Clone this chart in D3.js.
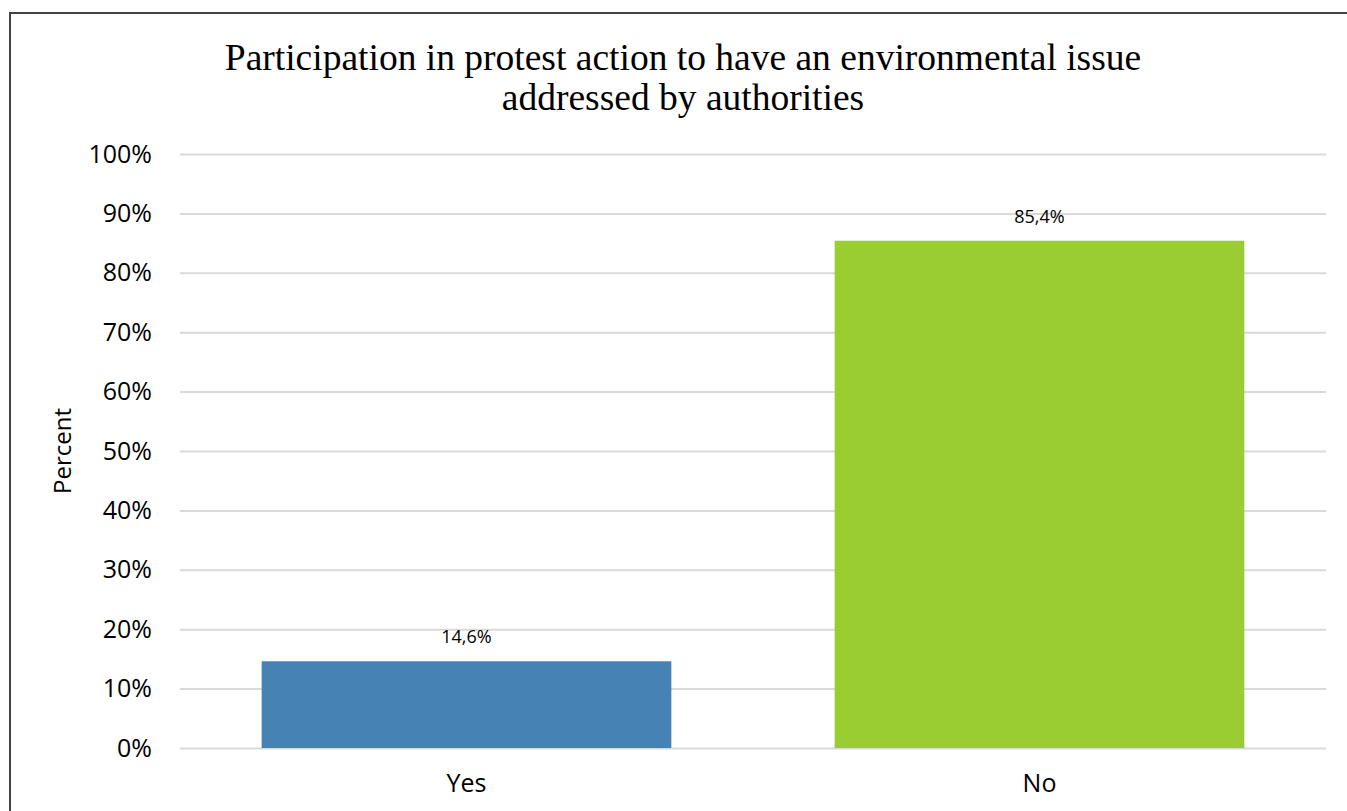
<!DOCTYPE html>
<html>
<head>
<meta charset="utf-8">
<script src="https://cdn.jsdelivr.net/npm/d3@7"></script>
<style>
  html, body { margin: 0; padding: 0; background: #fff; }
  svg { display: block; }
</style>
</head>
<body>
<svg id="chart" width="1347" height="811"></svg>
<script>
// Survey answers and their shares (percent)
const categories = ["Yes", "No"];
const values = [14.6, 85.4];
const barColors = ["#4682b4", "#9acd32"];
const yTicks = [0, 10, 20, 30, 40, 50, 60, 70, 80, 90, 100];
const titleLines = [
  "Participation in protest action to have an environmental issue",
  "addressed by authorities"
];

const svg = d3.select("#chart");
const W = 1347, H = 811;
const margin = { left: 180 };
const plotW = 1326 - margin.left;
const plotTop = 154, plotBottom = 748;

// chart frame
svg.append("rect")
  .attr("x", 10).attr("y", 13)
  .attr("width", W + 20).attr("height", H + 20)
  .attr("fill", "#fff")
  .attr("stroke", "#444").attr("stroke-width", 2);

const x = d3.scaleBand()
  .domain(categories)
  .range([margin.left, margin.left + plotW])
  .paddingInner(0.285)
  .paddingOuter(0.1425);

const y = d3.scaleLinear().domain([0, 100]).range([plotBottom, plotTop]);

// horizontal gridlines and percent ticks
const yAxis = d3.axisLeft(y)
  .tickValues(yTicks)
  .tickSize(-plotW)
  .tickPadding(28)
  .tickFormat(d => d + "%");

const gy = svg.append("g")
  .attr("transform", `translate(${margin.left},0)`)
  .call(yAxis);
gy.select(".domain").remove();
gy.selectAll(".tick line").attr("stroke", "#d9d9d9").attr("stroke-width", 2);
gy.selectAll(".tick text")
  .attr("fill", "#000")
  .style("font-family", "'Open Sans', sans-serif")
  .style("font-size", "25px");

// bars
svg.append("g").selectAll("rect")
  .data(categories)
  .join("rect")
  .attr("x", d => x(d))
  .attr("width", x.bandwidth())
  .attr("y", (d, i) => y(values[i]))
  .attr("height", (d, i) => y(0) - y(values[i]))
  .attr("fill", (d, i) => barColors[i]);

// value labels above bars
svg.append("g").selectAll("text")
  .data(categories)
  .join("text")
  .attr("x", d => x(d) + x.bandwidth() / 2)
  .attr("y", (d, i) => y(values[i]) - 18)
  .attr("text-anchor", "middle")
  .style("font-family", "'Open Sans', sans-serif")
  .style("font-size", "18px")
  .attr("fill", "#000")
  .text((d, i) => values[i].toFixed(1).replace(".", ",") + "%");

// category axis
const xAxis = d3.axisBottom(x).tickSize(0).tickPadding(26);
const gx = svg.append("g")
  .attr("transform", `translate(0,${plotBottom})`)
  .call(xAxis);
gx.select(".domain").remove();
gx.selectAll(".tick text")
  .attr("fill", "#000")
  .style("font-family", "'Open Sans', sans-serif")
  .style("font-size", "25px");

// y-axis title
svg.append("text")
  .attr("transform", "translate(71,451) rotate(-90)")
  .attr("text-anchor", "middle")
  .style("font-family", "'Open Sans', sans-serif")
  .style("font-size", "24px")
  .attr("fill", "#000")
  .text("Percent");

// chart title
svg.append("text")
  .attr("text-anchor", "middle")
  .style("font-family", "'Liberation Serif', 'Times New Roman', serif")
  .style("font-size", "37.5px")
  .attr("fill", "#000")
  .selectAll("tspan")
  .data(titleLines)
  .join("tspan")
  .attr("x", 683)
  .attr("y", (d, i) => 70 + i * 40)
  .text(d => d);
</script>
</body>
</html>
